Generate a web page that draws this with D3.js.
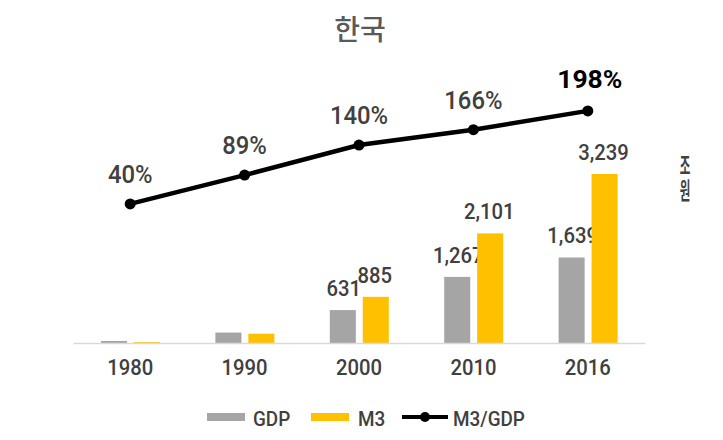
<!DOCTYPE html>
<html>
<head>
<meta charset="utf-8">
<script src="https://cdn.jsdelivr.net/npm/d3@7"></script>
<style>
  body { margin: 0; background: #fff; }
  svg { display: block; }
</style>
</head>
<body>
<svg id="chart"></svg>
<script>
// Chart data
const years = ["1980", "1990", "2000", "2010", "2016"];
const gdp = [39, 200, 631, 1267, 1639];      // 조원
const m3 = [16, 178, 885, 2101, 3239];       // 조원
const ratio = [40, 89, 140, 166, 198];       // M3/GDP %
const barLabels = [false, false, true, true, true];

const width = 723;
const height = 440;
const font = "Roboto, 'Noto Sans CJK KR', sans-serif";
const krFont = "'Noto Sans CJK KR', sans-serif";
const textColor = "#404040";
const narrow = 0.9;   // the source font is a condensed face

const svg = d3.select("#chart")
    .attr("width", width)
    .attr("height", height)
    .style("font-family", font);

// Scales
const x = d3.scaleBand().domain(years).range([73, 645]);
const inner = d3.scaleBand().domain(["GDP", "M3"]).range([28, 87]).paddingInner(0.21);
const yBar = d3.scaleLinear().domain([0, 3239]).range([343, 174]);
const yLine = d3.scaleLinear().domain([0, 200]).range([227.5, 109.7]);

// places a horizontally squeezed text at (px, py)
function label(parent, px, py, str, size, sx) {
    return parent.append("text")
        .attr("transform", `translate(${px},${py}) scale(${sx},1)`)
        .attr("text-anchor", "middle")
        .attr("fill", textColor)
        .style("font-size", size + "px")
        .style("font-weight", 500)
        .text(str);
}

// Title
svg.append("text")
    .attr("x", 360).attr("y", 40)
    .attr("text-anchor", "middle")
    .style("font-family", krFont)
    .style("font-size", "28px")
    .style("font-weight", 500)
    .attr("fill", "#595959")
    .text("한국");

// Bars
const series = [
    { key: "GDP", values: gdp, color: "#a5a5a5", dx: 1 },
    { key: "M3", values: m3, color: "#ffc000", dx: -1 }
];

series.forEach(s => {
    const g = svg.append("g");
    g.selectAll("rect")
        .data(years)
        .enter().append("rect")
        .attr("x", d => x(d) + inner(s.key))
        .attr("width", inner.bandwidth())
        .attr("y", (d, i) => yBar(s.values[i]))
        .attr("height", (d, i) => yBar(0) - yBar(s.values[i]))
        .attr("fill", s.color);

    years.forEach((d, i) => {
        if (!barLabels[i]) return;
        label(g, x(d) + inner(s.key) + inner.bandwidth() / 2 + s.dx,
            yBar(s.values[i]) - 14, d3.format(",")(s.values[i]), 22.5, narrow);
    });
});

// Axis
const xAxis = svg.append("g")
    .attr("transform", `translate(0,${yBar(0)})`)
    .call(d3.axisBottom(x).tickSize(0).tickPadding(16));
xAxis.select(".domain").attr("stroke", "#d9d9d9").attr("stroke-width", 1.5);
xAxis.selectAll("text")
    .attr("transform", `scale(${narrow},1)`)
    .style("font-family", font)
    .style("font-size", "22.5px")
    .style("font-weight", 500)
    .attr("fill", textColor);

// M3/GDP line
const cx = d => x(d) + x.bandwidth() / 2;
const line = d3.line()
    .x((d, i) => cx(years[i]))
    .y(d => yLine(d));

svg.append("path")
    .datum(ratio)
    .attr("d", line)
    .attr("fill", "none")
    .attr("stroke", "#000")
    .attr("stroke-width", 4.5);

svg.selectAll(".dot")
    .data(ratio)
    .enter().append("circle")
    .attr("class", "dot")
    .attr("cx", (d, i) => cx(years[i]))
    .attr("cy", d => yLine(d))
    .attr("r", 5.5)
    .attr("fill", "#000");

const last = ratio.length - 1;
ratio.forEach((d, i) => {
    if (i === last) {
        label(svg, cx(years[i]) + 2, yLine(d) - 23, d + "%", 26.5, 1)
            .attr("fill", "#000")
            .style("font-weight", "bold");
    } else {
        label(svg, cx(years[i]), yLine(d) - 21, d + "%", 26.5, narrow);
    }
});

// Unit label (vertical, squeezed)
svg.append("g")
    .attr("transform", "translate(685,0) scale(0.5,1)")
    .append("text")
    .attr("x", 0).attr("y", 154)
    .style("writing-mode", "vertical-rl")
    .style("text-orientation", "upright")
    .style("letter-spacing", "2px")
    .style("font-family", krFont)
    .style("font-size", "23px")
    .style("font-weight", 700)
    .attr("fill", textColor)
    .text("조원");

// Legend
const legend = svg.append("g").attr("transform", "translate(0,417)");
legend.append("rect").attr("x", 207).attr("y", -4).attr("width", 38).attr("height", 8).attr("fill", "#a5a5a5");
legend.append("text").attr("x", 253).text("GDP");
legend.append("rect").attr("x", 311).attr("y", -4).attr("width", 38).attr("height", 8).attr("fill", "#ffc000");
legend.append("text").attr("x", 358).text("M3");
legend.append("line").attr("x1", 402).attr("x2", 448).attr("y1", 0).attr("y2", 0).attr("stroke", "#000").attr("stroke-width", 4);
legend.append("circle").attr("cx", 425).attr("cy", 0).attr("r", 5).attr("fill", "#000");
legend.append("text").attr("x", 453).text("M3/GDP");
legend.selectAll("text")
    .attr("transform", function () {
        const tx = +d3.select(this).attr("x");
        d3.select(this).attr("x", 0);
        return `translate(${tx},9) scale(${narrow},1)`;
    })
    .attr("fill", textColor)
    .style("font-size", "21px")
    .style("font-weight", 500);
</script>
</body>
</html>
